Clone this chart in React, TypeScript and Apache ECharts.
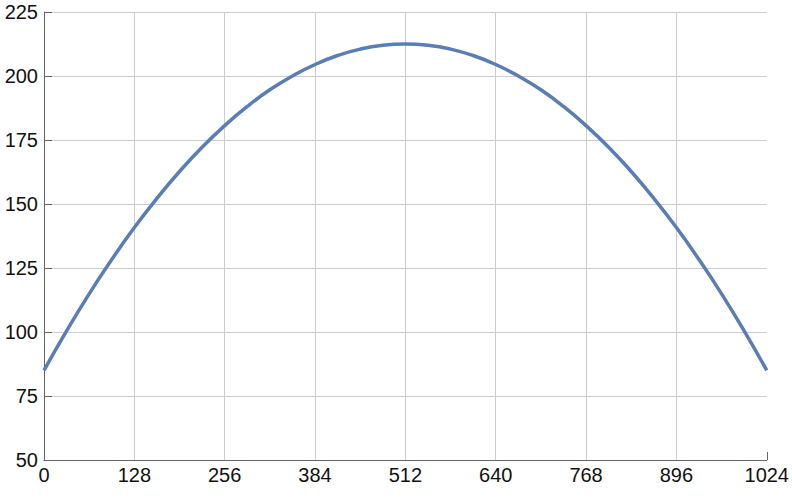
import React, { useEffect, useRef } from "react";
import * as echarts from "echarts";

const xValues = [0, 32, 64, 96, 128, 160, 192, 224, 256, 288, 320, 352, 384, 416, 448, 480, 512, 544, 576, 608, 640, 672, 704, 736, 768, 800, 832, 864, 896, 928, 960, 992, 1024];
const yValues = [85, 100.4, 114.9, 128.3, 140.8, 152.2, 162.7, 172.2, 180.6, 188.1, 194.6, 200.0, 204.5, 208.0, 210.5, 212.0, 212.5, 212.0, 210.5, 208.0, 204.5, 200.0, 194.6, 188.1, 180.6, 172.2, 162.7, 152.2, 140.8, 128.3, 114.9, 100.4, 85];
const xGridTicks = [128, 256, 384, 512, 640, 768, 896];

export default function App() {
  const ref = useRef<HTMLDivElement>(null);
  useEffect(() => {
    if (!ref.current) return;
    const chart = echarts.init(ref.current, null, { renderer: "svg" });
    const axisColor = "#666666";
    const gridColor = "#cccccc";
    const font = "Liberation Sans, Arial, sans-serif";
    chart.setOption({
      animation: false,
      grid: { left: 44, right: 24, top: 12, bottom: 38, containLabel: false },
      xAxis: {
        type: "value",
        min: 0,
        max: 1024,
        interval: 128,
        axisLine: { show: true, lineStyle: { color: axisColor, width: 1 } },
        axisTick: { show: true, inside: true, length: 8, lineStyle: { color: axisColor } },
        splitLine: { show: false },
        axisLabel: {
          color: "#111", fontSize: 20, fontFamily: font, margin: 5, showMaxLabel: true, showMinLabel: true,
          formatter: (v: number) => String(v),
        },
      },
      yAxis: {
        type: "value",
        min: 50,
        max: 225,
        interval: 25,
        axisLine: { show: true, lineStyle: { color: axisColor, width: 1 } },
        axisTick: { show: true, inside: true, length: 8, lineStyle: { color: axisColor } },
        splitLine: { show: true, lineStyle: { color: gridColor, width: 1 } },
        axisLabel: { color: "#111", fontSize: 20, fontFamily: font, margin: 6, formatter: (v: number) => String(v) },
      },
      series: [
        {
          type: "line",
          data: xValues.map((x, i) => [x, yValues[i]]),
          smooth: true,
          showSymbol: false,
          lineStyle: { color: "#5b7db6", width: 3.5 },
          z: 3,
          markLine: {
            silent: true,
            symbol: "none",
            label: { show: false },
            lineStyle: { color: gridColor, width: 1, type: "solid" },
            data: xGridTicks.map((v) => ({ xAxis: v })),
            z: 1,
          },
        },
      ],
    });
    return () => chart.dispose();
  }, []);
  return <div ref={ref} style={{ width: 792, height: 498, position: "absolute", left: 0, top: 0 }} />;
}
